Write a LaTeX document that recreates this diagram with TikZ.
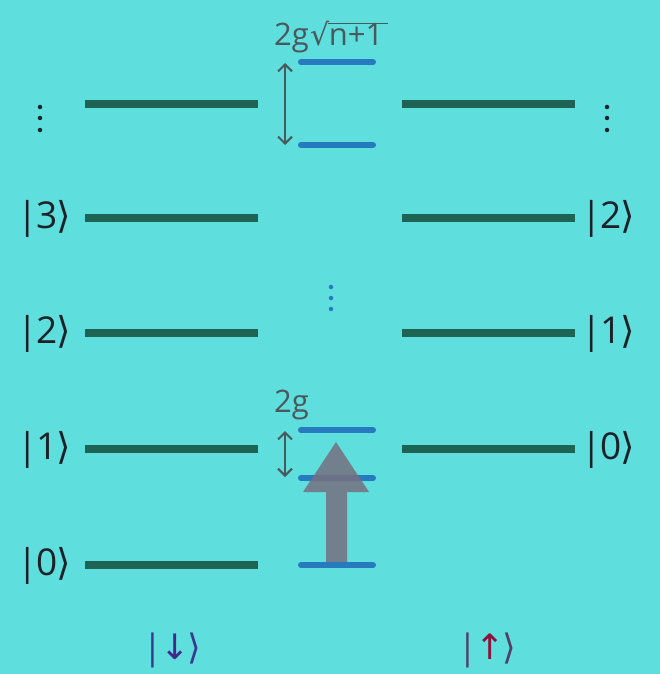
\documentclass[tikz,border=0pt]{standalone}
\usepackage{fontspec}
\setmainfont{Open Sans}
\newfontfamily\dv{DejaVu Sans}
\usetikzlibrary{arrows.meta}
\definecolor{bg}{RGB}{95,222,222}
\definecolor{lev}{RGB}{30,100,84}
\definecolor{blev}{RGB}{38,122,190}
\definecolor{lab}{RGB}{74,88,92}
\definecolor{ketc}{RGB}{28,34,40}
\definecolor{dnc}{RGB}{70,40,140}
\definecolor{upc}{RGB}{140,20,60}
\definecolor{upbar}{RGB}{80,64,104}
\definecolor{dnbar}{RGB}{60,56,140}
\definecolor{garrow}{RGB}{118,112,128}
\newcommand{\myket}[1]{|\kern-1pt#1\kern-1pt{\dv ⟩}}
\tikzset{
  lvl/.style={draw=lev, line width=8pt},
  blvl/.style={draw=blev, line width=6pt, line cap=round},
  ketlab/.style={text=ketc, font=\fontsize{37}{42}\selectfont, inner sep=0pt},
  splab/.style={text=lab, font=\fontsize{31}{36}\selectfont, inner sep=0pt},
  dbl/.style={draw=lab, line width=2pt, {Straight Barb[length=7pt,width=14pt]}-{Straight Barb[length=7pt,width=14pt]}},
  vdot/.style={circle, inner sep=0pt, minimum size=5pt}
}
\begin{document}
\begin{tikzpicture}[x=1pt,y=-1pt]
\fill[bg] (0,0) rectangle (660,674);
\useasboundingbox (0,0) rectangle (660,674);
% left levels
\foreach \y/\n in {104/L4,218/L3,333/L2,449/L1,565/L0}{
  \coordinate (\n a) at (85,\y); \coordinate (\n b) at (258,\y);
  \draw[lvl] (\n a) -- (\n b);
}
% right levels
\foreach \y/\n in {104/R3,218/R2,333/R1,449/R0}{
  \coordinate (\n a) at (402,\y); \coordinate (\n b) at (575,\y);
  \draw[lvl] (\n a) -- (\n b);
}
% blue dressed levels
\foreach \y/\n in {62/B4,145/B3,430/B2,478/B1,565/B0}{
  \coordinate (\n a) at (301,\y); \coordinate (\n b) at (373,\y);
  \draw[blvl] (\n a) -- (\n b);
}
% left kets
\node[ketlab] (k3) at (44,219) {\myket{3}};
\node[ketlab] (k2) at (44,334) {\myket{2}};
\node[ketlab] (k1) at (44,450) {\myket{1}};
\node[ketlab] (k0) at (44,566) {\myket{0}};
% right kets
\node[ketlab] (r2) at (608,219) {\myket{2}};
\node[ketlab] (r1) at (608,334) {\myket{1}};
\node[ketlab] (r0) at (608,450) {\myket{0}};
% vertical dots
\foreach \x/\c/\n in {40/ketc/dl,607/ketc/dr}{
  \foreach \y [count=\i] in {107,118,130}{
    \node[vdot, fill=\c, minimum size=4.5pt] (\n\i) at (\x,\y) {};
  }
}
\foreach \y [count=\i] in {287,298,309}{
  \node[vdot, fill=blev, minimum size=4.5pt] (dm\i) at (331,\y) {};
}
% splittings
\coordinate (t1) at (285,63); \coordinate (t2) at (285,145);
\draw[dbl] (t1) -- (t2);
\coordinate (s1) at (285,431); \coordinate (s2) at (285,477);
\draw[dbl] (s1) -- (s2);
\node[splab, anchor=base west] (g2) at (274,412) {2g};
\node[splab, anchor=base west] (gtop) at (274,46) {2g};
\node[text=lab, inner sep=0pt, anchor=base west, font=\dv\fontsize{30}{36}\selectfont] (rad) at ([xshift=1pt]gtop.base east) {√};
\node[splab, anchor=base west] (np1) at ([xshift=-1pt]rad.base east) {n+1};
\draw[lab, line width=1.6pt] ([xshift=-2pt,yshift=-2pt]rad.north east) -- ([xshift=4pt,yshift=-2pt]np1.north east |- rad.north);
% excitation arrow
\fill[garrow, opacity=0.85] (326,562) -- (326,492) -- (303,492) -- (336,442) -- (369,492) -- (347,492) -- (347,562) -- cycle;
% spin labels
\node[inner sep=0pt, font=\fontsize{35}{40}\selectfont, text=dnbar] (dn) at (172,650) {|\kern-2pt{\dv\color{dnc}↓}\kern-2pt{\dv ⟩}};
\node[inner sep=0pt, font=\fontsize{35}{40}\selectfont, text=upbar] (up) at (487,650) {|\kern-2pt{\dv\color{upc}↑}\kern-2pt{\dv ⟩}};
\end{tikzpicture}
\end{document}
